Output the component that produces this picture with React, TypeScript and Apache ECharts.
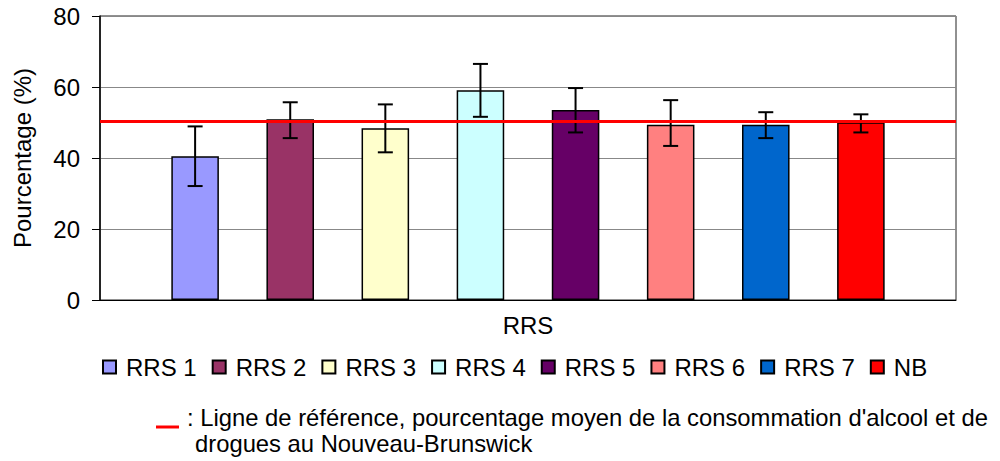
import React, { useEffect, useRef } from "react";
import * as echarts from "echarts";

const categories = ["RRS"];
const seriesNames = ["RRS 1", "RRS 2", "RRS 3", "RRS 4", "RRS 5", "RRS 6", "RRS 7", "NB"];
const values = [40.5, 50.9, 48.4, 59.1, 53.5, 49.4, 49.4, 50.1];
const lows = [32.1, 45.6, 41.6, 51.6, 47.2, 43.4, 45.6, 47.2];
const highs = [48.9, 55.7, 55.1, 66.5, 59.7, 56.3, 52.9, 52.3];
const colors = ["#9999FF", "#993366", "#FFFFCC", "#CCFFFF", "#660066", "#FF8080", "#0066CC", "#FF0000"];
const referenceValue = 50.3;
const yTicks = { min: 0, max: 80, interval: 20 };
const noteLine1 = ": Ligne de référence, pourcentage moyen de la consommation d'alcool et de";
const noteLine2 = "drogues au Nouveau-Brunswick";
const yAxisTitle = "Pourcentage (%)";

const FONT = "'Liberation Sans', Arial, sans-serif";

export default function App() {
  const ref = useRef<HTMLDivElement>(null);
  useEffect(() => {
    if (!ref.current) return;
    const chart = echarts.init(ref.current, undefined, { renderer: "svg" });
    const n = seriesNames.length;
    const barSeries = seriesNames.map((name, i) => ({
      name,
      type: "bar",
      data: [values[i]],
      barWidth: (100 / (2 * n + 2)).toFixed(4) + "%",
      barGap: "100%",
      itemStyle: { color: colors[i], borderColor: "#000", borderWidth: 1.5 },
      z: 2,
      ...(i === 0
        ? {
            markLine: {
              silent: true,
              symbol: "none",
              label: { show: false },
              lineStyle: { color: "#FF0000", width: 3, type: "solid" },
              data: [{ yAxis: referenceValue }],
              z: 10,
            },
          }
        : {}),
    }));
    const errData = seriesNames.map((_, i) => [0, lows[i], highs[i], i]);
    const errSeries = {
      type: "custom",
      z: 5,
      data: errData,
      encode: { x: 0, y: [1, 2] },
      renderItem: (params: any, api: any) => {
        const idx = api.value(3);
        const cx = api.coord([api.value(0), 0])[0];
        const catW = api.size([1, 0])[0];
        const bw = catW / (2 * n + 2);
        const x = cx + (idx - (n - 1) / 2) * 2 * bw;
        const yLow = api.coord([0, api.value(1)])[1];
        const yHigh = api.coord([0, api.value(2)])[1];
        const cap = 7.5;
        const style = { stroke: "#000", lineWidth: 2 };
        return {
          type: "group",
          children: [
            { type: "line", shape: { x1: x, y1: yLow, x2: x, y2: yHigh }, style },
            { type: "line", shape: { x1: x - cap, y1: yLow, x2: x + cap, y2: yLow }, style },
            { type: "line", shape: { x1: x - cap, y1: yHigh, x2: x + cap, y2: yHigh }, style },
          ],
        };
      },
    };
    chart.setOption({
      animation: false,
      textStyle: { fontFamily: FONT, color: "#000" },
      grid: {
        left: 100,
        top: 16,
        right: 44,
        bottom: 161,
        show: true,
        borderColor: "#222",
        borderWidth: 1,
        containLabel: false,
      },
      legend: {
        data: seriesNames,
        left: 97,
        top: 350,
        itemWidth: 13,
        itemHeight: 13,
        itemGap: 15,
        icon: "rect",
        textStyle: { fontFamily: FONT, fontSize: 24, color: "#000", padding: [0, 0, 0, 5] },
      },
      xAxis: {
        type: "category",
        data: categories,
        axisLine: { lineStyle: { color: "#000", width: 1 } },
        axisTick: { show: false },
        axisLabel: { fontFamily: FONT, fontSize: 24, color: "#000", margin: 13 },
      },
      yAxis: {
        type: "value",
        min: yTicks.min,
        max: yTicks.max,
        interval: yTicks.interval,
        name: yAxisTitle,
        nameLocation: "middle",
        nameGap: 66,
        nameTextStyle: { fontFamily: FONT, fontSize: 24, color: "#000" },
        axisLine: { show: true, lineStyle: { color: "#000", width: 1.5 } },
        axisTick: { show: true, inside: false, length: 8, lineStyle: { color: "#000" } },
        axisLabel: { fontFamily: FONT, fontSize: 24, color: "#000", margin: 20 },
        splitLine: { show: true, lineStyle: { color: "#888", width: 1 } },
      },
      graphic: [
        {
          type: "line",
          shape: { x1: 156, y1: 427, x2: 179, y2: 427 },
          style: { stroke: "#FF0000", lineWidth: 3 },
        },
        {
          type: "text",
          x: 187,
          y: 417.5,
          style: { text: noteLine1, fontFamily: FONT, fontSize: 23.8, fill: "#000", verticalAlign: "middle", align: "left" },
        },
        {
          type: "text",
          x: 195,
          y: 443,
          style: { text: noteLine2, fontFamily: FONT, fontSize: 23.8, fill: "#000", verticalAlign: "middle", align: "left" },
        },
      ],
      series: [...barSeries, errSeries],
    });
    return () => chart.dispose();
  }, []);
  return <div ref={ref} style={{ width: 1000, height: 461, position: "absolute", left: 0, top: 0 }} />;
}
